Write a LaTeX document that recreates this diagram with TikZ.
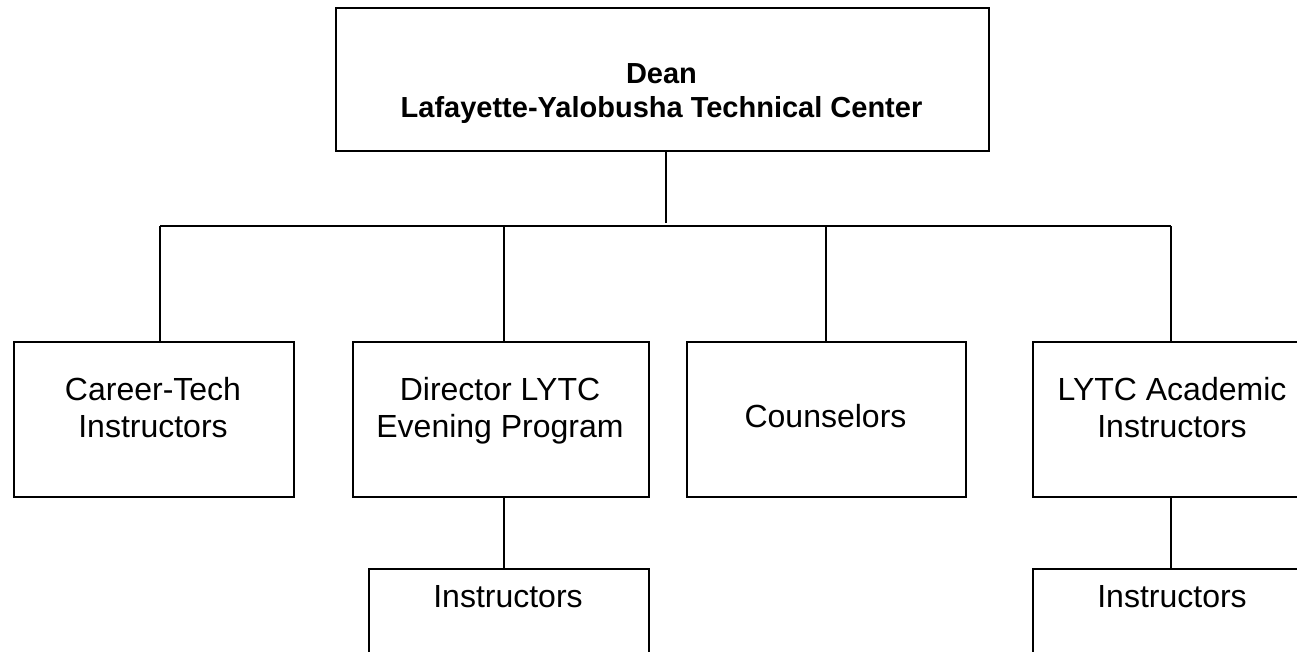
\documentclass[tikz,border=0pt]{standalone}
\usepackage{fontspec}
\setmainfont{Liberation Sans}
\begin{document}
\begin{tikzpicture}[x=1pt,y=-1pt,
  box/.style={draw=black, line width=1.6pt, inner sep=0pt, anchor=north west, fill=white},
  conn/.style={draw=black, line width=1.4pt},
  lbl/.style={anchor=base, inner sep=0pt, font=\fontsize{32}{37}\selectfont},
  blbl/.style={anchor=base, inner sep=0pt, font=\fontsize{29}{35}\selectfont\bfseries}]
\useasboundingbox (0,0) rectangle (1297,651);
\clip (0,0) rectangle (1297,651);
% boxes
\node[box, minimum width=653pt, minimum height=143pt] (dean) at (335,7) {};
\node[box, minimum width=280pt, minimum height=155pt] (b1) at (13,341) {};
\node[box, minimum width=296pt, minimum height=155pt] (b2) at (352,341) {};
\node[box, minimum width=279pt, minimum height=155pt] (b3) at (686,341) {};
\node[box, minimum width=280pt, minimum height=155pt] (b4) at (1032,341) {};
\node[box, minimum width=280pt, minimum height=155pt] (i2) at (368,568) {};
\node[box, minimum width=280pt, minimum height=155pt] (i4) at (1032,568) {};
% texts
\node[blbl] (tdean1) at (661.5,83) {Dean};
\node[blbl] (tdean2) at (661.5,117) {Lafayette-Yalobusha Technical Center};
\node[lbl] (t1a) at (153,400) {Career-Tech};
\node[lbl] (t1b) at (153,437) {Instructors};
\node[lbl] (t2a) at (500,400) {Director LYTC};
\node[lbl] (t2b) at (500,437) {Evening Program};
\node[lbl] (t3) at (825.5,427) {Counselors};
\node[lbl] (t4a) at (1172,400) {LYTC Academic};
\node[lbl] (t4b) at (1172,437) {Instructors};
\node[lbl] (ti2) at (508,607) {Instructors};
\node[lbl] (ti4) at (1172,607) {Instructors};
% connectors
\coordinate (top) at (666,223);
\coordinate (j1) at (160,226);
\coordinate (j2) at (504,226);
\coordinate (j3) at (826,226);
\coordinate (j4) at (1171,226);
\draw[conn] (top |- dean.south) -- (top);
\draw[conn] (j1) -- (j4);
\draw[conn] (j1) -- (j1 |- b1.north);
\draw[conn] (j2) -- (j2 |- b2.north);
\draw[conn] (j3) -- (j3 |- b3.north);
\draw[conn] (j4) -- (j4 |- b4.north);
\draw[conn] (j2 |- b2.south) -- (j2 |- i2.north);
\draw[conn] (j4 |- b4.south) -- (j4 |- i4.north);
\end{tikzpicture}
\end{document}
